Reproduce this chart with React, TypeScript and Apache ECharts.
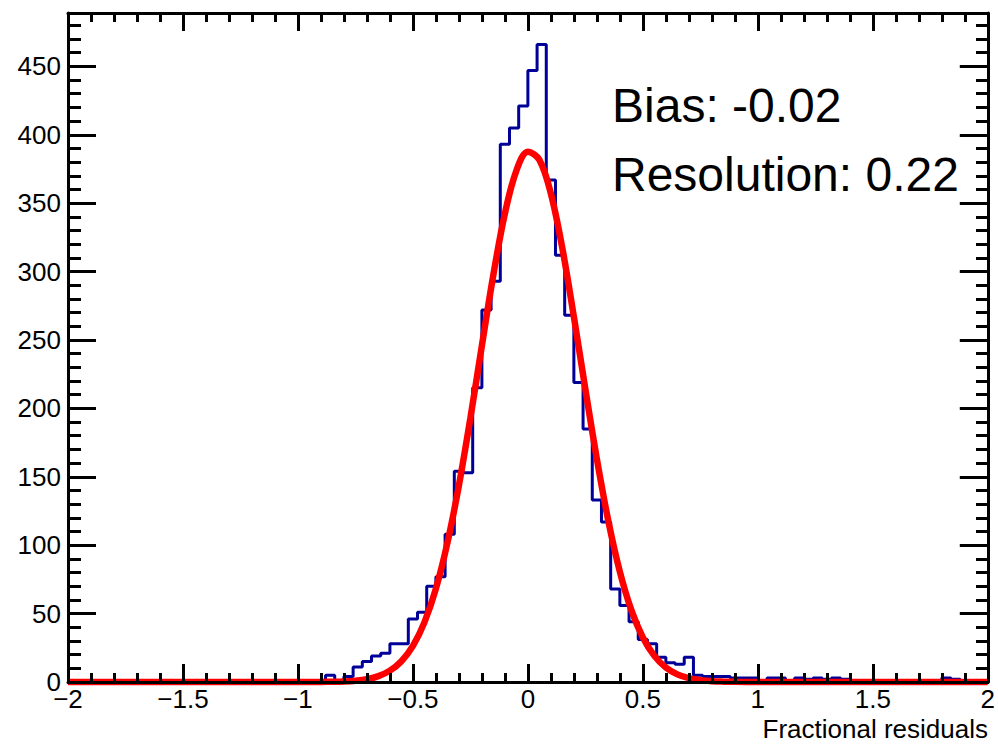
import React, { useEffect, useRef } from "react";
import * as echarts from "echarts";

// ---------- data ----------
const BIN_LOW = -2;
const BIN_WIDTH = 0.04;
// 100 bins from -2 to 2 (counts)
const COUNTS = [
  0, 0, 0, 0, 0, 0, 0, 0, 0, 0,
  0, 0, 0, 0, 0, 0, 0, 0, 0, 0,
  0, 0, 0, 0, 0, 0, 0, 0, 5, 1,
  4, 11, 15, 19, 21, 28, 28, 46, 51, 70,
  77, 108, 154, 153, 215, 272, 293, 393, 405, 421,
  447, 466, 367, 312, 268, 219, 185, 133, 117, 68,
  56, 44, 31, 28, 18, 14, 13, 18, 5, 4,
  4, 4, 3, 3, 3, 1, 3, 3, 1, 3,
  2, 3, 2, 3, 2, 1, 1, 1, 0, 0,
  1, 1, 1, 1, 0, 3, 2, 1, 0, 0,
];

// fitted curve
const FIT_X = [
  -2, -1.5, -1.2, -1.0, -0.95, -0.9, -0.85, -0.8, -0.75, -0.7, -0.65, -0.6, -0.55,
  -0.5, -0.45, -0.4, -0.35, -0.3, -0.25, -0.2, -0.15, -0.1, -0.05, 0, 0.05,
  0.1, 0.15, 0.2, 0.25, 0.3, 0.35, 0.4, 0.45, 0.5, 0.55, 0.6, 0.65, 0.7,
  0.75, 0.8, 0.85, 0.9, 1.0, 1.2, 1.5, 2,
];
const FIT_Y = [
  0, 0, 0, 0, 0.03, 0.07, 0.19, 0.44, 0.99, 2.1, 4.3, 8.3, 15.2,
  26.4, 43.6, 68.3, 101.7, 143.7, 193, 246, 297.8, 342.4, 373.8, 387.6, 381.6,
  357, 316.9, 267, 214, 163, 117.6, 80.6, 52.5, 32.5, 19.1, 10.6, 5.6, 2.8,
  1.36, 0.6, 0.26, 0.1, 0, 0, 0, 0,
];

const X_TICKS = [-2, -1.5, -1, -0.5, 0, 0.5, 1, 1.5, 2];
const X_TICK_LABELS = ["\u22122", "\u22121.5", "\u22121", "\u22120.5", "0", "0.5", "1", "1.5", "2"];
const Y_TICKS = [0, 50, 100, 150, 200, 250, 300, 350, 400, 450];
const Y_TICK_LABELS = ["0", "50", "100", "150", "200", "250", "300", "350", "400", "450"];

const X_TITLE = "Fractional residuals";
const BIAS_TEXT = "Bias: -0.02";
const RES_TEXT = "Resolution: 0.22";

const X_MIN = -2;
const X_MAX = 2;
const Y_MIN = 0;
const Y_MAX = 489;

// ---------- chart ----------
const FONT = '"Liberation Sans", Arial, Helvetica, sans-serif';

function labelFrom(ticks: number[], labels: string[]) {
  return (v: number) => {
    const i = ticks.findIndex((t) => Math.abs(t - v) < 1e-9);
    return i >= 0 ? labels[i] : "";
  };
}

export default function App() {
  const ref = useRef<HTMLDivElement>(null);

  useEffect(() => {
    if (!ref.current) return;
    const chart = echarts.init(ref.current, undefined, { renderer: "svg" });

    const histData: [number, number][] = COUNTS.map((c, i) => [BIN_LOW + i * BIN_WIDTH, c]);
    histData.push([BIN_LOW + COUNTS.length * BIN_WIDTH, COUNTS[COUNTS.length - 1]]);
    const fitData = FIT_X.map((x, i) => [x, FIT_Y[i]]);

    const black = "#000";
    const line = { show: true, onZero: false, lineStyle: { color: black, width: 3 } };
    const gridPos = { left: 68, right: 9, top: 13, bottom: 62, containLabel: false };

    const xMajor = (pos: "bottom" | "top", labels: boolean) => ({
      type: "value",
      gridIndex: 0,
      position: pos,
      min: X_MIN,
      max: X_MAX,
      interval: 0.5,
      z: 10,
      axisLine: line,
      splitLine: { show: false },
      minorSplitLine: { show: false },
      axisTick: { show: true, inside: true, length: 18, lineStyle: { color: black, width: 3 } },
      minorTick: { show: true, splitNumber: 5, length: 9, lineStyle: { color: black, width: 3 } },
      axisLabel: {
        show: labels,
        margin: 4,
        fontSize: 26,
        fontFamily: FONT,
        color: black,
        showMinLabel: true,
        showMaxLabel: true,
        formatter: labelFrom(X_TICKS, X_TICK_LABELS),
      },
    });

    const yMajor = (pos: "left" | "right", labels: boolean) => ({
      type: "value",
      gridIndex: 0,
      position: pos,
      min: Y_MIN,
      max: Y_MAX,
      interval: 50,
      z: 10,
      axisLine: line,
      splitLine: { show: false },
      axisTick: { show: true, inside: true, length: 28, lineStyle: { color: black, width: 3 } },
      minorTick: { show: false },
      axisLabel: {
        show: labels,
        margin: 7,
        fontSize: 26,
        fontFamily: FONT,
        color: black,
        showMaxLabel: false,
        formatter: labelFrom(Y_TICKS, Y_TICK_LABELS),
      },
    });

    const yMinor = (pos: "left" | "right") => ({
      type: "value",
      gridIndex: 1,
      position: pos,
      min: Y_MIN,
      max: Y_MAX,
      interval: 10,
      z: 10,
      axisLine: { show: false, onZero: false },
      splitLine: { show: false },
      axisTick: { show: true, inside: true, length: 13, lineStyle: { color: black, width: 3 } },
      axisLabel: { show: false },
    });

    chart.setOption({
      animation: false,
      backgroundColor: "#fff",
      grid: [gridPos, gridPos],
      xAxis: [
        xMajor("bottom", true),
        xMajor("top", false),
        {
          type: "value",
          gridIndex: 1,
          min: X_MIN,
          max: X_MAX,
          show: false,
          axisLine: { show: false, onZero: false },
        },
      ],
      yAxis: [yMajor("left", true), yMajor("right", false), yMinor("left"), yMinor("right")],
      series: [
        {
          type: "line",
          name: "hist",
          xAxisIndex: 0,
          yAxisIndex: 0,
          data: histData,
          step: "end",
          symbol: "none",
          showSymbol: false,
          clip: false,
          z: 2,
          lineStyle: { color: "#000099", width: 3 },
        },
        {
          type: "line",
          name: "fit",
          xAxisIndex: 0,
          yAxisIndex: 0,
          data: fitData,
          smooth: 0.35,
          symbol: "none",
          showSymbol: false,
          clip: false,
          z: 3,
          lineStyle: { color: "#ff0000", width: 6.5 },
        },
      ],
      graphic: [
        {
          type: "text",
          x: 612,
          y: 105,
          z: 20,
          style: {
            text: BIAS_TEXT,
            font: `48px ${FONT}`,
            fill: black,
            textAlign: "left",
            textVerticalAlign: "middle",
          },
        },
        {
          type: "text",
          x: 612,
          y: 174,
          z: 20,
          style: {
            text: RES_TEXT,
            font: `48px ${FONT}`,
            fill: black,
            textAlign: "left",
            textVerticalAlign: "middle",
          },
        },
        {
          type: "text",
          x: 988,
          y: 729,
          z: 20,
          style: {
            text: X_TITLE,
            font: `26px ${FONT}`,
            fill: black,
            textAlign: "right",
            textVerticalAlign: "middle",
          },
        },
      ],
    });

    return () => chart.dispose();
  }, []);

  return (
    <div
      ref={ref}
      style={{ position: "absolute", left: 0, top: 0, width: 998, height: 744 }}
    />
  );
}
